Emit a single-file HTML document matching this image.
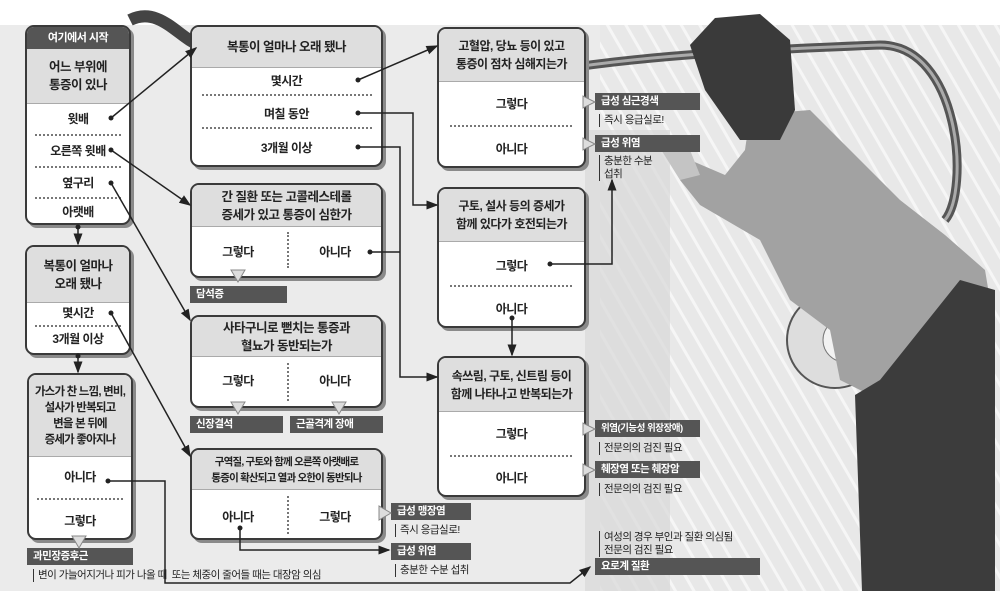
<!DOCTYPE html>
<html><head><meta charset="utf-8"><style>
*{margin:0;padding:0;box-sizing:border-box}
body{width:1000px;height:591px;position:relative;overflow:hidden;background:#fff;font-family:"Liberation Sans","Noto Sans CJK KR","NanumGothic",sans-serif;color:#222;letter-spacing:-0.5px}
.bg{position:absolute;left:0;top:25px;width:1000px;height:566px;background:#ebebeb}
.box{position:absolute;background:#fff;border:2px solid #3a3a3a;border-radius:9px;box-shadow:3px 3px 0 #8a8a8a;overflow:hidden}
.hd{background:#dedede;border-bottom:1px solid #aaa;text-align:center;font-weight:bold;font-size:12.5px;line-height:18px;display:flex;align-items:center;justify-content:center;white-space:nowrap}
.c{position:absolute;text-align:center;font-size:12px;font-weight:bold;white-space:nowrap;line-height:14px}
.dl{position:absolute;border-top:2px dotted #777}
.lab{position:absolute;background:#555;color:#fff;font-size:10.5px;font-weight:bold;padding-left:6px;line-height:17px;height:17px;white-space:nowrap;overflow:hidden}
.sub{position:absolute;font-size:10.5px;border-left:1px solid #333;padding-left:4px;line-height:13px;white-space:nowrap}
svg{position:absolute;left:0;top:0}
</style></head><body>
<div class="bg"></div>
<svg width="1000" height="591">
<defs><pattern id="r" width="16" height="16" patternUnits="userSpaceOnUse" patternTransform="rotate(-30)"><rect width="16" height="16" fill="#e8e8e8"/><rect width="3" height="16" fill="#f6f6f6"/></pattern></defs>
<rect x="600" y="25" width="400" height="566" fill="url(#r)"/>
<rect x="585" y="130" width="85" height="461" fill="#d9d9d9" opacity=".7"/>
<path d="M130 20 C160 5 180 40 200 45 L220 50" stroke="#444" stroke-width="12" fill="none"/>
<path d="M555 70 C650 55 750 50 880 45 C960 45 970 190 945 220" stroke="#555" stroke-width="9" fill="none"/>
<path d="M555 70 C650 55 750 50 880 45 C960 45 970 190 945 220" stroke="#aaa" stroke-width="3" fill="none"/>
<circle cx="835" cy="340" r="48" fill="#ddd" stroke="#555" stroke-width="2"/>
<circle cx="845" cy="340" r="22" fill="#f2f2f2" stroke="#777"/>
<polygon points="750,115 810,110 900,200 945,235 985,270 995,330 985,385 870,395 840,380 830,330 790,300 760,240 700,205 680,180 690,160 725,175 745,150" fill="#a2a2a2"/>
<polygon points="960,280 995,290 995,591 862,591 855,395 880,380" fill="#3c3c3c"/>
<polygon points="690,45 715,18 760,14 790,40 795,110 780,140 740,140 705,90" fill="#3a3a3a"/>
<polygon points="655,140 690,150 700,175 680,180" fill="#c4c4c4"/>
</svg>

<div class="box" style="left:25px;top:25px;width:106px;height:200px">
<div style="background:#555;color:#fff;font-size:11px;font-weight:bold;text-align:center;height:22px;line-height:22px">여기에서 시작</div>
<div class="hd" style="height:55px">어느 부위에<br>통증이 있나</div>
</div>
<div class="c" style="left:25px;top:112px;width:106px">윗배</div>
<div class="dl" style="left:35px;top:134px;width:86px"></div>
<div class="c" style="left:25px;top:144px;width:106px">오른쪽 윗배</div>
<div class="dl" style="left:35px;top:166px;width:86px"></div>
<div class="c" style="left:25px;top:176px;width:106px">옆구리</div>
<div class="dl" style="left:35px;top:197px;width:86px"></div>
<div class="c" style="left:25px;top:205px;width:106px">아랫배</div>

<div class="box" style="left:25px;top:245px;width:106px;height:110px"><div class="hd" style="height:56px">복통이 얼마나<br>오래 됐나</div></div>
<div class="c" style="left:25px;top:306px;width:106px">몇시간</div>
<div class="dl" style="left:35px;top:325px;width:86px"></div>
<div class="c" style="left:25px;top:332px;width:106px">3개월 이상</div>

<div class="box" style="left:27px;top:373px;width:106px;height:167px"><div class="hd" style="height:82px;line-height:16px;font-size:11.5px;letter-spacing:-0.8px">가스가 찬 느낌, 변비,<br>설사가 반복되고<br>변을 본 뒤에<br>증세가 좋아지나</div></div>
<div class="c" style="left:27px;top:470px;width:106px">아니다</div>
<div class="dl" style="left:37px;top:498px;width:86px"></div>
<div class="c" style="left:27px;top:514px;width:106px">그렇다</div>
<div class="lab" style="left:27px;top:548px;width:106px">과민장증후근</div>
<div class="sub" style="left:33px;top:569px">변이 가늘어지거나 피가 나올 때 &nbsp;또는 체중이 줄어들 때는 대장암 의심</div>

<div class="box" style="left:190px;top:25px;width:193px;height:142px"><div class="hd" style="height:41px">복통이 얼마나 오래 됐나</div></div>
<div class="c" style="left:190px;top:74px;width:193px">몇시간</div>
<div class="dl" style="left:202px;top:94px;width:170px"></div>
<div class="c" style="left:190px;top:107px;width:193px">며칠 동안</div>
<div class="dl" style="left:202px;top:127px;width:170px"></div>
<div class="c" style="left:190px;top:141px;width:193px">3개월 이상</div>

<div class="box" style="left:190px;top:183px;width:193px;height:95px"><div class="hd" style="height:42px">간 질환 또는 고콜레스테롤<br>증세가 있고 통증이 심한가</div></div>
<div class="c" style="left:190px;top:245px;width:96px">그렇다</div>
<div class="c" style="left:287px;top:245px;width:96px">아니다</div>
<div style="position:absolute;left:287px;top:232px;height:36px;border-left:2px dotted #777"></div>
<div class="lab" style="left:190px;top:286px;width:97px">담석증</div>

<div class="box" style="left:190px;top:315px;width:193px;height:93px"><div class="hd" style="height:40px">사타구니로 뻗치는 통증과<br>혈뇨가 동반되는가</div></div>
<div class="c" style="left:190px;top:374px;width:96px">그렇다</div>
<div class="c" style="left:287px;top:374px;width:96px">아니다</div>
<div style="position:absolute;left:287px;top:363px;height:38px;border-left:2px dotted #777"></div>
<div class="lab" style="left:190px;top:416px;width:93px">신장결석</div>
<div class="lab" style="left:290px;top:416px;width:93px">근골격계 장애</div>

<div class="box" style="left:190px;top:448px;width:193px;height:92px"><div class="hd" style="height:40px;font-size:10.5px;line-height:16px;letter-spacing:-0.8px">구역질, 구토와 함께 오른쪽 아랫배로<br>통증이 확산되고 열과 오한이 동반되나</div></div>
<div class="c" style="left:190px;top:510px;width:96px">아니다</div>
<div class="c" style="left:287px;top:510px;width:96px">그렇다</div>
<div style="position:absolute;left:287px;top:496px;height:38px;border-left:2px dotted #777"></div>
<div class="lab" style="left:391px;top:503px;width:80px">급성 맹장염</div>
<div class="sub" style="left:395px;top:524px">즉시 응급실로!</div>
<div class="lab" style="left:391px;top:543px;width:80px">급성 위염</div>
<div class="sub" style="left:395px;top:564px">충분한 수분 섭취</div>

<div class="box" style="left:437px;top:27px;width:149px;height:141px"><div class="hd" style="height:53px;font-size:12px">고혈압, 당뇨 등이 있고<br>통증이 점차 심해지는가</div></div>
<div class="c" style="left:437px;top:97px;width:149px">그렇다</div>
<div class="dl" style="left:450px;top:125px;width:122px"></div>
<div class="c" style="left:437px;top:142px;width:149px">아니다</div>
<div class="lab" style="left:595px;top:93px;width:105px">급성 심근경색</div>
<div class="sub" style="left:599px;top:114px">즉시 응급실로!</div>
<div class="lab" style="left:595px;top:135px;width:105px">급성 위염</div>
<div class="sub" style="left:599px;top:155px">충분한 수분<br>섭취</div>

<div class="box" style="left:437px;top:187px;width:149px;height:141px"><div class="hd" style="height:53px;font-size:12px">구토, 설사 등의 증세가<br>함께 있다가 호전되는가</div></div>
<div class="c" style="left:437px;top:259px;width:149px">그렇다</div>
<div class="dl" style="left:450px;top:285px;width:122px"></div>
<div class="c" style="left:437px;top:302px;width:149px">아니다</div>

<div class="box" style="left:437px;top:356px;width:149px;height:141px"><div class="hd" style="height:54px;font-size:12px">속쓰림, 구토, 신트림 등이<br>함께 나타나고 반복되는가</div></div>
<div class="c" style="left:437px;top:427px;width:149px">그렇다</div>
<div class="dl" style="left:450px;top:455px;width:122px"></div>
<div class="c" style="left:437px;top:471px;width:149px">아니다</div>
<div class="lab" style="left:595px;top:420px;width:105px;font-size:9.5px">위염(기능성 위장장애)</div>
<div class="sub" style="left:599px;top:442px">전문의의 검진 필요</div>
<div class="lab" style="left:595px;top:461px;width:105px">췌장염 또는 췌장암</div>
<div class="sub" style="left:599px;top:483px">전문의의 검진 필요</div>
<div class="sub" style="left:599px;top:531px">여성의 경우 부인과 질환 의심됨<br>전문의 검진 필요</div>
<div class="lab" style="left:595px;top:558px;width:165px">요로계 질환</div>

<svg width="1000" height="591">
<defs><marker id="a" markerWidth="8" markerHeight="8" refX="7" refY="4" orient="auto"><path d="M0,1 L8,4 L0,7z" fill="#222"/></marker></defs>
<g stroke="#222" stroke-width="1.5" fill="none" marker-end="url(#a)">
<path d="M111 118 L196 48"/>
<path d="M111 150 L190 205"/>
<path d="M111 183 L190 320"/>
<path d="M78 227 L78 244"/>
<path d="M111 313 L190 456"/>
<path d="M78 356 L78 372"/>
<path d="M358 80 L437 46"/>
<path d="M358 113 L413 113 L413 205 L437 205"/>
<path d="M358 147 L400 147 L400 377 L437 377"/>
<path d="M550 264 L612 264 L612 180"/>
<path d="M512 318 L512 355"/>
<path d="M240 528 L240 550 L389 550"/>
<path d="M108 481 L165 481 L165 583 L570 583 L590 567"/>
</g>
<path d="M370 252 L400 252" stroke="#222" stroke-width="1.5"/>
<g fill="#222"><circle cx="111" cy="118" r="2.5"/><circle cx="111" cy="150" r="2.5"/><circle cx="111" cy="183" r="2.5"/><circle cx="78" cy="227" r="2.5"/><circle cx="111" cy="313" r="2.5"/><circle cx="78" cy="356" r="2.5"/><circle cx="358" cy="80" r="2.5"/><circle cx="358" cy="113" r="2.5"/><circle cx="358" cy="147" r="2.5"/><circle cx="370" cy="252" r="2.5"/><circle cx="550" cy="264" r="2.5"/><circle cx="512" cy="318" r="2.5"/><circle cx="240" cy="528" r="2.5"/><circle cx="108" cy="481" r="2.5"/></g>
<g fill="#ddd" stroke="#888"><path d="M231 270 L245 270 L238 282z"/><path d="M231 402 L245 402 L238 414z"/><path d="M332 402 L346 402 L339 414z"/><path d="M72 536 L86 536 L79 548z"/><path d="M379 506 L379 520 L391 513z"/><path d="M583 96 L583 108 L595 102z"/><path d="M583 138 L583 150 L595 144z"/><path d="M583 423 L583 435 L595 429z"/><path d="M583 464 L583 476 L595 470z"/></g>
</svg>
</body></html>
